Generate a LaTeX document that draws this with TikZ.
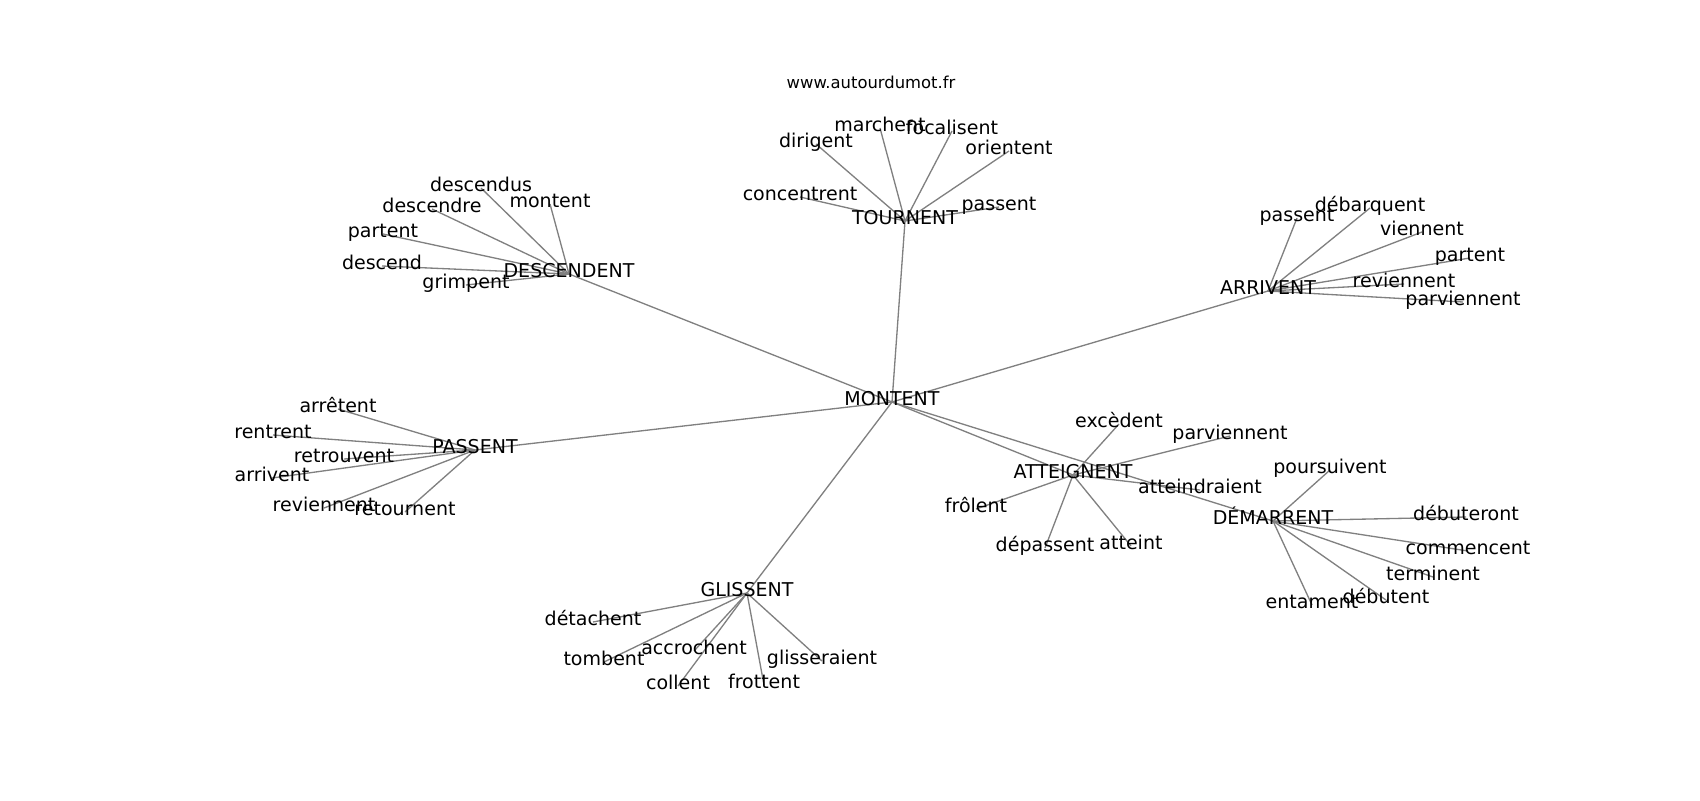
\documentclass[tikz,border=0pt]{standalone}
\usepackage{fontspec}
\setmainfont{DejaVu Sans}
\usetikzlibrary{backgrounds}
\begin{document}
\begin{tikzpicture}[x=0.72pt,y=-0.72pt,
  lbl/.style={inner sep=0pt, font=\fontsize{13.7}{16}\selectfont, text height=0.76em, text depth=0.21em, anchor=center},
  ttl/.style={inner sep=0pt, font=\fontsize{11.8}{14}\selectfont, anchor=center},
  edge/.style={draw=gray, line width=0.95pt}]
\useasboundingbox (0,0) rectangle (1700,800);

\node[ttl] (title) at (871,82) {www.autourdumot.fr};

% hubs
\node[lbl] (mon) at (892,402) {MONTENT};
\node[lbl] (des) at (569,274) {DESCENDENT};
\node[lbl] (tou) at (905,221) {TOURNENT};
\node[lbl] (arr) at (1268,291) {ARRIVENT};
\node[lbl] (pas) at (475,450) {PASSENT};
\node[lbl] (att) at (1073,475) {ATTEIGNENT};
\node[lbl] (dem) at (1273,521) {DÉMARRENT};
\node[lbl] (gli) at (747,593) {GLISSENT};

% TOURNENT leaves
\node[lbl] (t1) at (816,144) {dirigent};
\node[lbl] (t2) at (880,128) {marchent};
\node[lbl] (t3) at (952,131) {focalisent};
\node[lbl] (t4) at (1009,151) {orientent};
\node[lbl] (t5) at (800,197) {concentrent};
\node[lbl] (t6) at (999,207) {passent};

% DESCENDENT leaves
\node[lbl] (d1) at (481,188) {descendus};
\node[lbl] (d2) at (550,204) {montent};
\node[lbl] (d3) at (432,209) {descendre};
\node[lbl] (d4) at (383,234) {partent};
\node[lbl] (d5) at (382,266) {descend};
\node[lbl] (d6) at (466,285) {grimpent};

% ARRIVENT leaves
\node[lbl] (a1) at (1297,218) {passent};
\node[lbl] (a2) at (1370,208) {débarquent};
\node[lbl] (a3) at (1422,232) {viennent};
\node[lbl] (a4) at (1470,258) {partent};
\node[lbl] (a5) at (1404,284) {reviennent};
\node[lbl] (a6) at (1463,302) {parviennent};

% PASSENT leaves
\node[lbl] (p1) at (338,409) {arrêtent};
\node[lbl] (p2) at (273,435) {rentrent};
\node[lbl] (p3) at (344,459) {retrouvent};
\node[lbl] (p4) at (272,478) {arrivent};
\node[lbl] (p5) at (324,508) {reviennent};
\node[lbl] (p6) at (405,512) {retournent};

% ATTEIGNENT leaves
\node[lbl] (e1) at (1119,424) {excèdent};
\node[lbl] (e2) at (1230,436) {parviennent};
\node[lbl] (e3) at (976,509) {frôlent};
\node[lbl] (e4) at (1045,548) {dépassent};
\node[lbl] (e5) at (1131,546) {atteint};
\node[lbl] (e6) at (1200,490) {atteindraient};

% DEMARRENT leaves
\node[lbl] (m1) at (1330,470) {poursuivent};
\node[lbl] (m2) at (1466,517) {débuteront};
\node[lbl] (m3) at (1468,551) {commencent};
\node[lbl] (m4) at (1433,577) {terminent};
\node[lbl] (m5) at (1386,600) {débutent};
\node[lbl] (m6) at (1312,605) {entament};

% GLISSENT leaves
\node[lbl] (g1) at (593,622) {détachent};
\node[lbl] (g2) at (604,662) {tombent};
\node[lbl] (g3) at (694,651) {accrochent};
\node[lbl] (g4) at (678,686) {collent};
\node[lbl] (g5) at (764,685) {frottent};
\node[lbl] (g6) at (822,661) {glisseraient};

\begin{scope}[on background layer]
\fill[white] (0,0) rectangle (1700,800);
\foreach \h in {des,tou,arr,pas,att,dem,gli}
  \draw[edge] (mon.center) -- (\h.center);
\foreach \l in {t1,t2,t3,t4,t5,t6}
  \draw[edge] (tou.center) -- (\l.center);
\foreach \l in {d1,d2,d3,d4,d5,d6}
  \draw[edge] (des.center) -- (\l.center);
\foreach \l in {a1,a2,a3,a4,a5,a6}
  \draw[edge] (arr.center) -- (\l.center);
\foreach \l in {p1,p2,p3,p4,p5,p6}
  \draw[edge] (pas.center) -- (\l.center);
\foreach \l in {e1,e2,e3,e4,e5,e6}
  \draw[edge] (att.center) -- (\l.center);
\foreach \l in {m1,m2,m3,m4,m5,m6}
  \draw[edge] (dem.center) -- (\l.center);
\foreach \l in {g1,g2,g3,g4,g5,g6}
  \draw[edge] (gli.center) -- (\l.center);
\end{scope}
\end{tikzpicture}
\end{document}
